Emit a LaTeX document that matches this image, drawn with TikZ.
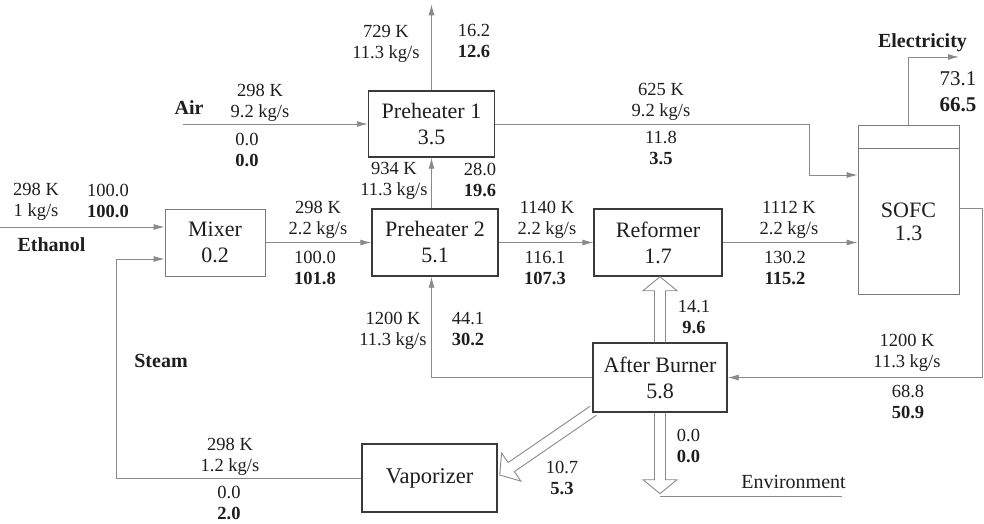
\documentclass[tikz,border=0pt]{standalone}
\usepackage{fontspec}
\setmainfont{Liberation Serif}
\usetikzlibrary{calc,arrows.meta}
\definecolor{linegray}{HTML}{8A8A8A}
\definecolor{boxdark}{HTML}{3A3A3A}
\definecolor{boxlight}{HTML}{7A7A7A}
\definecolor{textcol}{HTML}{1E1E1E}

% hollow block arrow from #2 to the tip #3
\newcommand\hollowarr[2]{%
  \coordinate (ha-h) at ($(#2)!14pt!(#1)$);
  \draw[line]
    ($(#1)!5.5pt!90:(#2)$) -- ($(ha-h)!5.5pt!90:(#2)$) --
    ($(ha-h)!17pt!90:(#2)$) -- (#2) --
    ($(ha-h)!17pt!-90:(#2)$) -- ($(ha-h)!5.5pt!-90:(#2)$) --
    ($(#1)!5.5pt!-90:(#2)$);
}

\begin{document}
\begin{tikzpicture}[x=1pt,y=-1pt,
  line/.style={draw=linegray, line width=0.9pt},
  arr/.style={line, -{Latex[length=11pt,width=6pt]}},
  unit/.style={draw=boxdark, line width=1.4pt, fill=white, align=center,
    inner sep=0pt, text=textcol, font=\fontsize{22}{26}\selectfont},
  thinunit/.style={unit, draw=boxlight, line width=0.9pt},
  lbl/.style={align=center, inner sep=0pt, text=textcol,
    font=\fontsize{18.5}{21}\selectfont},
  ttl/.style={inner sep=0pt, text=textcol,
    font=\fontsize{20}{24}\selectfont\bfseries},
]
\useasboundingbox[fill=white] (0,0) rectangle (984,523);

% process units
\node[unit, minimum width=126pt, minimum height=66pt] (ph1) at (431.5,124) {Preheater 1\\3.5};
\node[thinunit, minimum width=100pt, minimum height=67pt] (mix) at (215,242.5) {Mixer\\0.2};
\node[unit, minimum width=126pt, minimum height=67pt] (ph2) at (435,242.5) {Preheater 2\\5.1};
\node[unit, minimum width=128pt, minimum height=67pt] (ref) at (658,242.5) {Reformer\\1.7};
\node[thinunit, minimum width=101pt, minimum height=169pt] (sofc) at (908.5,209.5) {};
\draw[draw=boxlight, line width=0.9pt] ($(sofc.north west)+(0,24)$) -- ($(sofc.north east)+(0,24)$);
\node[lbl, font=\fontsize{22}{23}\selectfont] (sofct) at (908.5,221.5) {SOFC\\1.3};
\node[unit, minimum width=134pt, minimum height=69pt] (ab) at (660,377.5) {After Burner\\5.8};
\node[unit, minimum width=135pt, minimum height=68pt, font=\fontsize{22.5}{26}\selectfont] (vap) at (429.5,478) {Vaporizer};

% free ends of streams
\coordinate (airin) at (183,124);
\coordinate (ethin) at (0,227);
\coordinate (exh) at ($(ph1.north)+(0,-86)$);
\coordinate (k1) at (809,124);
\coordinate (k2) at (809,175);
\coordinate (k3) at (982,208);
\coordinate (k4) at (982,377.5);
\coordinate (stc) at (116,478);
\coordinate (elc) at (908.5,57);
\coordinate (elo) at (959,57);
\coordinate (envtip) at ($(ab.south)+(0,81)$);
\coordinate (envend) at (842,496);

% material streams
\draw[arr] (airin) -- (ph1.west);
\draw[arr] (ph1.north) -- (exh);
\draw[arr] (ph2.north -| ph1.south) -- (ph1.south);
\draw[arr] (ph1.east) -- (k1) -- (k2) -- (sofc.west |- k2);
\draw[arr] (ethin) -- ($(mix.west)+(0,-15.5)$);
\draw[arr] (vap.west) -- (stc) |- ($(mix.west)+(0,16.5)$);
\draw[arr] (mix.east) -- (ph2.west);
\draw[arr] (ph2.east) -- (ref.west);
\draw[arr] (ref.east) -- (sofc.west |- ref.east);
\draw[arr] (sofc.east |- k3) -- (k3) -- (k4) -- (ab.east);
\draw[arr] (ab.west) -| (ph2.south -| ph1.south);
\draw[arr] (sofc.north) -- (elc) -- (elo);

% heat flows
\hollowarr{ab.north}{ab.north |- ref.south}
\hollowarr{ab.south}{envtip}
\hollowarr{$(ab.south west)+(1,-2)$}{$(vap.east)+(2,-3)$}
\draw[line] (envtip |- envend) -- (envend);

% stream names
\node[ttl] (tair) at (189,108) {Air};
\node[ttl] (teth) at (51.5,245) {Ethanol};
\node[ttl] (tsteam) at (161,361) {Steam};
\node[ttl] (telec) at (922.5,43) {Electricity};
\node[lbl, font=\fontsize{20}{24}\selectfont] (tenv) at (793.5,482) {Environment};
\node[lbl, font=\fontsize{21}{25.5}\selectfont] (tel) at (958,91.5) {73.1\\\textbf{66.5}};

% stream states and exergy values
\node[lbl] (l1a) at (260,103) {298 K\\9.2 kg/s};
\node[lbl] (l1b) at (247,150) {0.0\\\textbf{0.0}};
\node[lbl] (l2a) at (386,43.5) {729 K\\11.3 kg/s};
\node[lbl] (l2b) at (474,41.5) {16.2\\\textbf{12.6}};
\node[lbl] (l3a) at (394,181) {934 K\\11.3 kg/s};
\node[lbl] (l3b) at (480,179.5) {28.0\\\textbf{19.6}};
\node[lbl] (l4a) at (661,101.5) {625 K\\9.2 kg/s};
\node[lbl] (l4b) at (661,148) {11.8\\\textbf{3.5}};
\node[lbl] (l5a) at (36,202) {298 K\\1 kg/s};
\node[lbl] (l5b) at (108,200.5) {100.0\\\textbf{100.0}};
\node[lbl] (l6a) at (318,220) {298 K\\2.2 kg/s};
\node[lbl] (l6b) at (315,268) {100.0\\\textbf{101.8}};
\node[lbl] (l7a) at (547,220) {1140 K\\2.2 kg/s};
\node[lbl] (l7b) at (545,268) {116.1\\\textbf{107.3}};
\node[lbl] (l8a) at (789,220) {1112 K\\2.2 kg/s};
\node[lbl] (l8b) at (785,268) {130.2\\\textbf{115.2}};
\node[lbl] (l9a) at (393,331) {1200 K\\11.3 kg/s};
\node[lbl] (l9b) at (468,329) {44.1\\\textbf{30.2}};
\node[lbl] (l10) at (694,317) {14.1\\\textbf{9.6}};
\node[lbl] (l11a) at (907,353) {1200 K\\11.3 kg/s};
\node[lbl] (l11b) at (908,402) {68.8\\\textbf{50.9}};
\node[lbl] (l12) at (688.5,446) {0.0\\\textbf{0.0}};
\node[lbl] (l13a) at (230,457) {298 K\\1.2 kg/s};
\node[lbl] (l13b) at (229,503) {0.0\\\textbf{2.0}};
\node[lbl] (l14) at (562,477.5) {10.7\\\textbf{5.3}};
\end{tikzpicture}
\end{document}
